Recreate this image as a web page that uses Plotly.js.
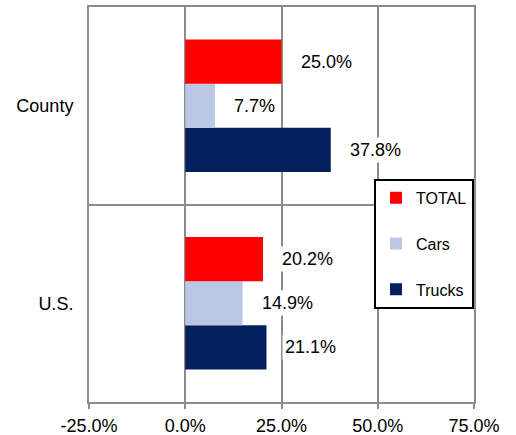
<!DOCTYPE html>
<html>
<head>
<meta charset="utf-8">
<script src="https://cdn.plot.ly/plotly-3.0.1.min.js"></script>
<style>html,body{margin:0;padding:0;background:#fff;}#chart{width:516px;height:435px;}</style>
</head>
<body>
<div id="chart"></div>
<script>
// Data
const categories = ['U.S.', 'County'];          // bottom to top
const seriesNames = ['Trucks', 'Cars', 'TOTAL']; // drawn bottom to top within a group
const trucks = [0.211, 0.378];
const cars = [0.149, 0.077];
const total = [0.202, 0.250];
const xTickVals = [-0.25, 0, 0.25, 0.5, 0.75];
const xTickText = ['-25.0%', '0.0%', '25.0%', '50.0%', '75.0%'];

const seriesValues = [trucks, cars, total];
const seriesColors = ['#03205E', '#BAC8E6', '#FF0000'];
const legendRanks = [3, 2, 1];

const FONT = '"Liberation Sans", Arial, sans-serif';
const FS = 18;
const bargap = 0.33;
const barW = (1 - bargap) / seriesNames.length;

const traces = seriesNames.map((name, i) => ({
  type: 'bar',
  orientation: 'h',
  name: name,
  y: categories,
  x: seriesValues[i],
  marker: {color: seriesColors[i]},
  legendgroup: name,
  legendrank: legendRanks[i],
  hoverinfo: 'skip'
}));

const annotations = [];
seriesNames.forEach((name, i) => {
  const off = (i - (seriesNames.length - 1) / 2) * barW;
  categories.forEach((c, j) => {
    const v = seriesValues[i][j];
    annotations.push({
      x: v, y: j + off, xref: 'x', yref: 'y',
      text: (v * 100).toFixed(1) + '%',
      showarrow: false, xanchor: 'left', yanchor: 'middle', xshift: 16,
      bgcolor: '#ffffff', borderpad: 2,
      font: {family: FONT, size: FS, color: '#000'}
    });
  });
});

const layout = {
  width: 516, height: 435,
  margin: {l: 89, r: 42, t: 7, b: 33},
  paper_bgcolor: '#fff', plot_bgcolor: '#fff',
  barmode: 'group', bargap: bargap, bargroupgap: 0,
  font: {family: FONT, size: FS, color: '#000'},
  xaxis: {
    range: [-0.25, 0.75], tickmode: 'array', tickvals: xTickVals, ticktext: xTickText,
    showgrid: true, gridcolor: '#8c8c8c', gridwidth: 2,
    zeroline: false, showline: true, linecolor: '#8c8c8c', linewidth: 2, mirror: true,
    ticks: 'outside', ticklen: 5, tickcolor: '#8c8c8c', tickwidth: 2,
    ticklabelstandoff: 1,
    tickfont: {family: FONT, size: FS, color: '#000'}
  },
  yaxis: {
    type: 'category', categoryorder: 'array', categoryarray: categories,
    tickson: 'boundaries', showgrid: true, gridcolor: '#8c8c8c', gridwidth: 2,
    showline: true, linecolor: '#8c8c8c', linewidth: 2, mirror: true,
    ticks: '', ticklabelstandoff: 10,
    tickfont: {family: FONT, size: FS, color: '#000'}
  },
  showlegend: true,
  legend: {
    x: 1, xanchor: 'right', y: 0.565, yanchor: 'top',
    bgcolor: '#fff', bordercolor: '#000', borderwidth: 2,
    traceorder: 'grouped', tracegroupgap: 22,
    font: {family: FONT, size: 16, color: '#000'}
  },
  annotations: annotations
};

Plotly.newPlot('chart', traces, layout, {staticPlot: true, displayModeBar: false});
</script>
</body>
</html>
